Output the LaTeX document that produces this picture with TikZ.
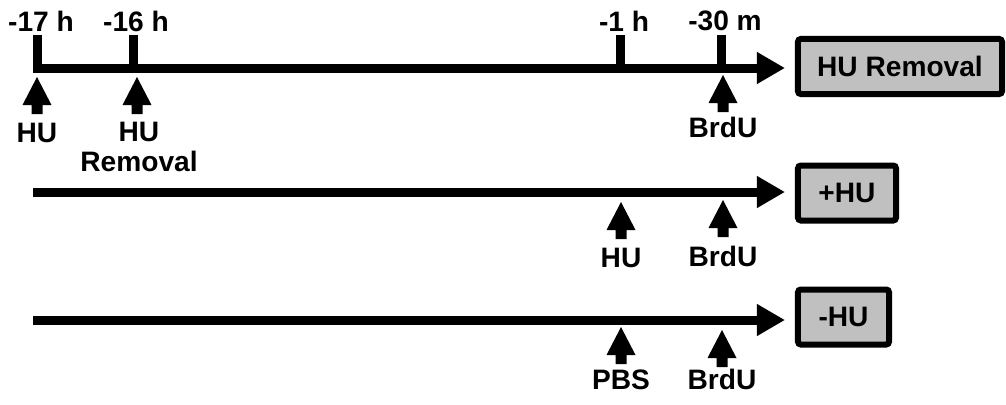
\documentclass[tikz,border=0pt]{standalone}
\usepackage{fontspec}
\setmainfont{Liberation Sans}
\usetikzlibrary{arrows.meta,positioning}
\definecolor{tlink} {HTML}{000000}
\definecolor{tlgray}{HTML}{C0C0C0}
% block arrow pointing up, tip at #1 (pixel units, y down)
\newcommand{\tlarrow}[1]{%
  \fill[tlink] (#1) -- ++(14.5,28) -- ++(-9,0) -- ++(0,9) -- ++(-11,0)
    -- ++(0,-9) -- ++(-9,0) -- cycle;}

\begin{document}
\begin{tikzpicture}[x=0.025cm, y=-0.025cm,
    lbl/.style={font=\fontsize{20}{20.8}\selectfont\bfseries, inner sep=0pt, align=center},
    condbox/.style={draw=tlink, fill=tlgray, line width=0.15cm, rounded corners=2pt,
      minimum height=1.375cm, inner sep=0pt, font=\fontsize{20}{21}\selectfont\bfseries},
    tline/.style={draw=tlink, line width=0.225cm,
      -{Triangle[length=0.7cm, width=0.75cm]}, shorten >=0.25cm},
    tick/.style={draw=tlink, line width=0.225cm}]
  \useasboundingbox (0,0) rectangle (1006,404);
  % condition boxes
  \node[condbox, minimum width=5.1cm]   (box1) at (900,66.5) {HU Removal};
  \node[condbox, minimum width=2.45cm]  (box2) at (847,193)  {+HU};
  \node[condbox, minimum width=2.275cm] (box3) at (843.5,317) {-HU};
  % time lines
  \coordinate (s1) at (33,68);
  \coordinate (s2) at (33,192);
  \coordinate (s3) at (33,320);
  \foreach \i in {1,2,3}
    {\draw[tline] (s\i) -- (s\i -| box\i.west);}
  % time marks
  \foreach \x/\lx/\t [count=\i] in {37.5/41/-17 h, 133.5/136/-16 h,
                                   620.5/624/-1 h, 721.5/725/-30 m}
    {\node[lbl] (tk\i) at (\lx,21) {\t};
     \draw[tick] (\x,35) -- (\x,68);}
  % treatments
  \foreach \n/\x/\y/\ty/\t in {hua/37/133/77/HU, brdua/723/127/75/BrdU,
                              hub/621/258/202/HU, brdub/723/256/200/BrdU,
                              pbs/621/380/327/PBS, brduc/722/379/330/BrdU}
    {\node[lbl] (\n) at (\x,\y) {\t};
     \tlarrow{\x,\ty}}
  \node[lbl] (hurem) at (139,147) {HU\\Removal};
  \tlarrow{137,77}
\end{tikzpicture}
\end{document}
